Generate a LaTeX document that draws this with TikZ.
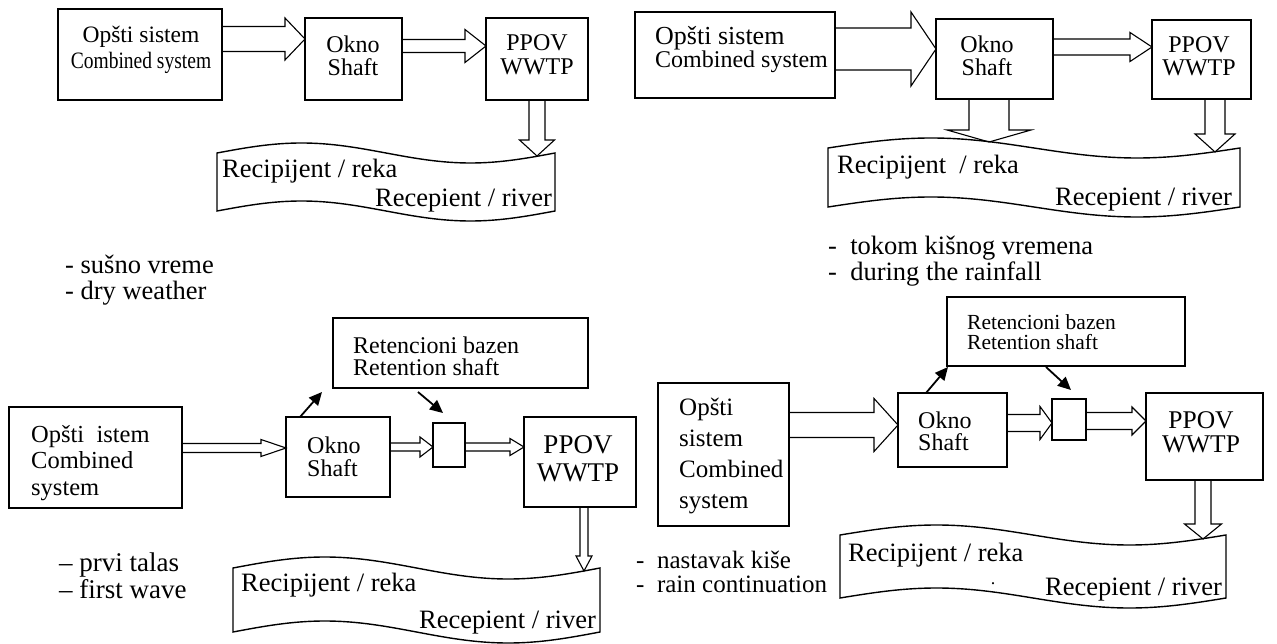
\documentclass[tikz,border=0pt]{standalone}
\usepackage{fontspec}
\usepackage{graphicx}
\setmainfont{Liberation Serif}
\usetikzlibrary{calc,arrows.meta}

\newcommand{\sz}[2]{\fontsize{#1}{#2}\selectfont}
% box by top left and bottom right corner (pixels)
\newcommand{\bx}[5]{\node[box, anchor=north west, minimum width={(#4-#2)*1pt}, minimum height={(#5-#3)*1pt}] (#1) at (#2,#3) {};}
% hollow arrow: from, to, half shaft, half head, head length
\newcommand{\fat}[5]{%
	\coordinate (hb) at ($(#2)!#5pt!(#1)$);
	\draw[fatline] ($(#1)!#3pt!-90:(#2)$) -- ($(hb)!#3pt!90:(#1)$) -- ($(hb)!#4pt!90:(#1)$) -- (#2)
		-- ($(hb)!#4pt!-90:(#1)$) -- ($(hb)!#3pt!-90:(#1)$) -- ($(#1)!#3pt!90:(#2)$);}
% river band: left, right, top, bottom, amplitude
\newcommand{\river}[5]{%
	\draw[band] (#1,#3) sin ({#1+(#2-#1)/4},{#3-#5}) cos ({(#1+#2)/2},#3) sin ({#1+3*(#2-#1)/4},{#3+#5}) cos (#2,#3)
		-- (#2,#4) sin ({#1+3*(#2-#1)/4},{#4+#5}) cos ({(#1+#2)/2},#4) sin ({#1+(#2-#1)/4},{#4-#5}) cos (#1,#4) -- cycle;}

\tikzset{
	box/.style={draw, line width=1.4pt, inner sep=0pt, outer sep=0pt},
	fatline/.style={draw, line width=1.1pt, line join=miter},
	band/.style={draw, line width=1.4pt},
	pointer/.style={line width=1.8pt, -{Triangle[length=13pt,width=12pt]}},
	lbl/.style={inner sep=0pt, align=left},
	rv/.style={lbl, font=\sz{26.5}{27}},
}

\begin{document}
\begin{tikzpicture}[x=1pt, y=-1pt]
	\useasboundingbox (0,0) rectangle (1277,644);

	% dry weather
	\bx{tlos}{58}{9}{222}{100}
	\bx{tlok}{305}{18}{402}{100}
	\bx{tlpp}{486}{18}{588}{100}
	\node[lbl, align=center, font=\sz{23.5}{26}] (tlostx) at (141,50) {Opšti sistem\\\scalebox{0.83}[1]{Combined system}};
	\node[lbl, align=center, font=\sz{24}{23}] (tloktx) at (353,56) {Okno\\Shaft};
	\node[lbl, align=center, font=\sz{24}{24}] (tlpptx) at (537,55) {PPOV\\WWTP};
	\fat{tlos.east |- 0,39}{tlok.west |- 0,39}{12.5}{21}{20}
	\fat{tlok.east |- 0,46}{tlpp.west |- 0,46}{6.5}{16.5}{21}
	\river{217}{555}{153}{211}{10}
	\coordinate (tlin) at (537,156);
	\fat{tlpp.south -| tlin}{tlin}{8}{17.5}{16}
	\node[rv, anchor=west] (tlre) at (222,171) {Recipijent / reka};
	\node[rv, anchor=east] (tlri) at (552,201) {Recepient / river};
	\node[lbl, anchor=west, font=\sz{26.5}{26}] (tlcap) at (65,280) {- sušno vreme\\- dry weather};

	% during the rainfall
	\bx{tros}{635}{12}{835}{98}
	\bx{trok}{936}{19}{1053}{99}
	\bx{trpp}{1152}{20}{1251}{99}
	\node[lbl, anchor=west, font=\sz{24}{23}] (trostx) at (655,50) {{\sz{26}{23}Opšti sistem}\\Combined system};
	\node[lbl, align=center, font=\sz{24}{23}] (troktx) at (987,56) {Okno\\Shaft};
	\node[lbl, align=center, font=\sz{24}{23}] (trpptx) at (1199,56) {PPOV\\WWTP};
	\fat{tros.east |- 0,49}{trok.west |- 0,49}{21}{37}{25}
	\fat{trok.east |- 0,47}{trpp.west |- 0,47}{8}{14.5}{22}
	\river{828}{1240}{148}{207}{10}
	\coordinate (trin1) at (989,142);
	\coordinate (trin2) at (1215,152);
	\fat{trok.south -| trin1}{trin1}{20}{42}{12}
	\fat{trpp.south -| trin2}{trin2}{10}{20}{18}
	\node[rv, anchor=west] (trre) at (837,167) {Recipijent\ \ / reka};
	\node[rv, anchor=east] (trri) at (1232,200) {Recepient / river};
	\node[lbl, anchor=west, font=\sz{26.5}{23}] (trcap) at (828,261) {-\ \ tokom kišnog vremena\\-\ \ during the rainfall};

	% first wave
	\bx{blret}{333}{318}{588}{388}
	\bx{blos}{9}{407}{182}{508}
	\bx{blok}{286}{417}{390}{497}
	\bx{blsm}{433}{423}{465}{467}
	\bx{blpp}{524}{417}{636}{507}
	\node[lbl, anchor=west, font=\sz{24}{22}] (blrettx) at (353,356) {Retencioni bazen\\Retention shaft};
	\node[lbl, anchor=west, font=\sz{24.5}{26.5}] (blostx) at (31,463) {Opšti\ \ istem\\Combined\\system};
	\node[lbl, anchor=west, font=\sz{24}{23}] (bloktx) at (307,457) {Okno\\Shaft};
	\node[lbl, align=center, font=\sz{27}{28}] (blpptx) at (578,459) {PPOV\\WWTP};
	\fat{blos.east |- 0,448}{blok.west |- 0,448}{4.5}{8.5}{25}
	\fat{blok.east |- 0,447}{blsm.west |- 0,447}{4}{10}{13}
	\fat{blsm.east |- 0,447}{blpp.west |- 0,447}{4}{8.5}{14}
	\draw[pointer] (blok.north -| 300,0) -- ($(blret.south west)+(-11,4)$);
	\draw[pointer] ($(blret.south west)+(85,4)$) -- ($(blsm.north)+(-6,-10)$);
	\river{233}{600}{568}{632}{11}
	\coordinate (blin) at (584,571);
	\fat{blpp.south -| blin}{blin}{4}{8}{15}
	\node[rv, anchor=west] (blre) at (241,585) {Recipijent / reka};
	\node[rv, anchor=east] (blri) at (596,623) {Recepient / river};
	\node[lbl, anchor=west, font=\sz{27}{27}] (blcap) at (59,576) {– prvi talas\\– first wave};

	% rain continuation
	\bx{brret}{947}{297}{1185}{366}
	\bx{bros}{658}{383}{789}{526}
	\bx{brok}{898}{393}{1007}{467}
	\bx{brsm}{1052}{399}{1086}{440}
	\bx{brpp}{1146}{393}{1263}{480}
	\node[lbl, anchor=west, font=\sz{21.5}{20.5}] (brrettx) at (967,332) {Retencioni bazen\\Retention shaft};
	\node[lbl, anchor=west, font=\sz{25}{31}] (brostx) at (679,456) {Opšti\\sistem\\Combined\\system};
	\node[lbl, anchor=west, font=\sz{24}{22}] (broktx) at (918,431) {Okno\\Shaft};
	\node[lbl, align=center, font=\sz{25.5}{24}] (brpptx) at (1201,432) {PPOV\\WWTP};
	\fat{bros.east |- 0,425}{brok.west |- 0,425}{12.5}{26.5}{24}
	\fat{brok.east |- 0,423}{brsm.west |- 0,423}{8.5}{16.5}{12}
	\fat{brsm.east |- 0,421}{brpp.west |- 0,421}{8.5}{14}{14}
	\draw[pointer] (brok.north -| 926,0) -- ($(brret.south west)+(1,1)$);
	\draw[pointer] ($(brret.south west)+(99,1)$) -- ($(brsm.north)+(2,-9)$);
	\river{840}{1226}{535}{598}{10}
	\coordinate (brin) at (1203,539);
	\fat{brpp.south -| brin}{brin}{8}{18.5}{15}
	\node[rv, anchor=west] (brre) at (848,555) {Recipijent / reka};
	\node[rv, anchor=east] (brri) at (1222,590) {Recepient / river};
	\node[lbl, font=\sz{18}{18}] (brdot) at (993,584) {.};
	\node[lbl, anchor=west, font=\sz{25}{23.5}] (brcap) at (636,572) {-\ \ nastavak kiše\\-\ \ rain continuation};
\end{tikzpicture}
\end{document}
